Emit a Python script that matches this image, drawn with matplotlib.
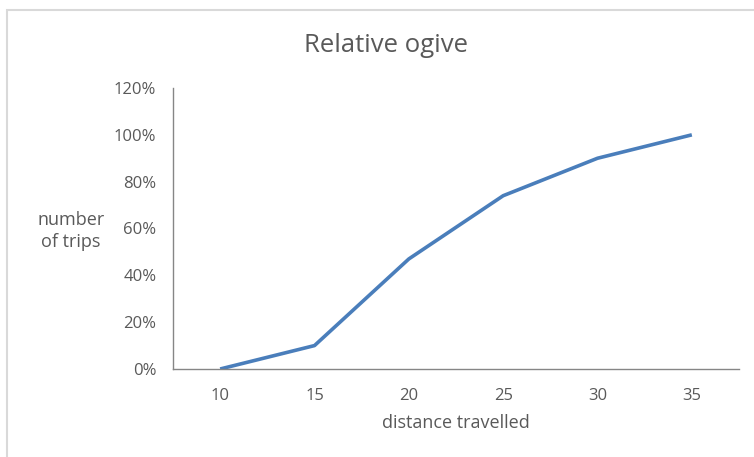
import matplotlib
matplotlib.use("Agg")
import matplotlib.pyplot as plt
from matplotlib.patches import Rectangle
from matplotlib.ticker import PercentFormatter

plt.rcParams['font.family'] = ['Open Sans', 'DejaVu Sans']

distance = ["10", "15", "20", "25", "30", "35"]
relative_cumulative = [0.0, 10.0, 47.0, 74.0, 90.0, 100.0]
y_ticks = [0, 20, 40, 60, 80, 100, 120]

text_color = "#595959"
axis_color = "#868686"

fig = plt.figure(figsize=(7.54, 4.57), dpi=100)
fig.patch.set_facecolor("white")

# chart-area border
fig.patches.append(Rectangle((7 / 754, -0.05), 1.1, 1 - 10 / 457 + 0.05,
                             transform=fig.transFigure, fill=False,
                             edgecolor="#d9d9d9", linewidth=1.5))

ax = fig.add_axes([173 / 754, 1 - 369 / 457, (739 - 173) / 754, (369 - 88) / 457])
positions = list(range(len(distance)))
ax.plot(positions, relative_cumulative, color="#4a7ebb", linewidth=2.6,
        solid_capstyle="butt")

ax.set_xlim(-0.5, len(distance) - 0.5)
ax.set_ylim(0, 120)
ax.set_xticks(positions)
ax.set_xticklabels(distance)
ax.set_yticks(y_ticks)
ax.yaxis.set_major_formatter(PercentFormatter(decimals=0))

for side in ("top", "right"):
    ax.spines[side].set_visible(False)
for side in ("left", "bottom"):
    ax.spines[side].set_color(axis_color)
    ax.spines[side].set_linewidth(1.0)

ax.tick_params(axis="both", length=0, labelsize=12, labelcolor=text_color)
ax.tick_params(axis="y", pad=12)
ax.tick_params(axis="x", pad=14)

ax.set_xlabel("distance travelled", fontsize=13, color=text_color, labelpad=7)
fig.text(71 / 754, 1 - 231 / 457, "number\nof trips", ha="center", va="center",
         fontsize=13, color=text_color, linespacing=1.3)
fig.text(386 / 754, 1 - 46 / 457, "Relative ogive", ha="center", va="center",
         fontsize=18.5, color=text_color)

fig.savefig("out.png", dpi=100, facecolor="white")
